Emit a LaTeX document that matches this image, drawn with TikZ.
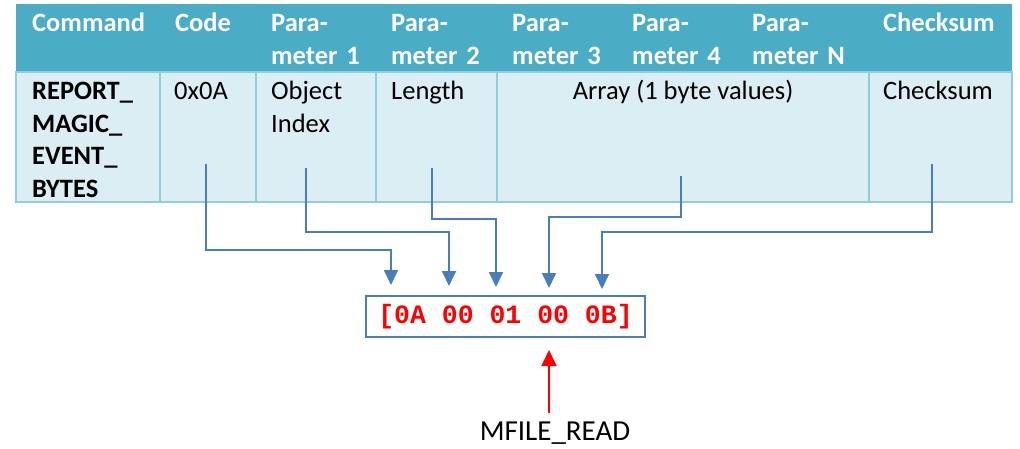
\documentclass[tikz,border=0pt]{standalone}
\usepackage{fontspec}
\setmainfont{Carlito}
\newfontfamily\bytefont{Liberation Mono}
\usetikzlibrary{arrows.meta}
\definecolor{hdr}{HTML}{4BACC6}
\definecolor{cellbg}{HTML}{DAEEF3}
\definecolor{cellline}{HTML}{92CDDC}
\definecolor{conn}{HTML}{4A7EBB}
\definecolor{redarrow}{HTML}{FF0000}
\begin{document}
\begin{tikzpicture}[x=1pt,y=-1pt,
  every node/.style={inner sep=0pt, font=\fontsize{26.5}{32.5}\selectfont},
  hd/.style={anchor=base west, text=white, font=\fontsize{26.5}{32.5}\selectfont\bfseries, text width=130pt, align=left},
  bd/.style={anchor=base west, text=black, text width=120pt, align=left},
  connector/.style={draw=conn, line width=1.8pt, -{Triangle[width=14pt,length=15pt]}},
  readarrow/.style={draw=redarrow, line width=1.8pt, -{Triangle[width=15pt,length=16pt]}}]
\useasboundingbox (0,0) rectangle (1020,449);
% table
\fill[hdr] (16,4) rectangle (1012,72);
\fill[cellbg] (16,72) rectangle (1012,202);
\draw[cellline, line width=1.6pt] (16,72) rectangle (1012,202);
\foreach \x in {160,256,376,497,869} \draw[cellline, line width=1.6pt] (\x,72) -- (\x,202);
% header texts
\node[hd] (hcmd) at (32,32) {Command};
\node[hd] (hcode) at (175,32) {Code};
\node[hd] (hp1) at (271,32) {Para-\\meter 1};
\node[hd] (hp2) at (391,32) {Para-\\meter 2};
\node[hd] (hp3) at (512,32) {Para-\\meter 3};
\node[hd] (hp4) at (632,32) {Para-\\meter 4};
\node[hd] (hpn) at (752,32) {Para-\\meter N};
\node[hd] (hck) at (883,32) {Checksum};
% body texts
\node[bd, font=\fontsize{26.5}{32.5}\selectfont\bfseries] (bcmd) at (32,100) {REPORT\_\\MAGIC\_\\EVENT\_\\BYTES};
\node[bd] (bcode) at (174,100) {0x0A};
\node[bd] (bp1) at (271,100) {Object\\Index};
\node[bd] (bp2) at (391,100) {Length};
\node[anchor=base] (barr) at (683,100) {Array (1 byte values)};
\node[bd] (bck) at (883,100) {Checksum};
% byte box
\node[draw=conn, line width=1.8pt, minimum width=279pt, minimum height=41pt] (bytes) at (505.5,316.5) {};
\node[font=\fontsize{26.5}{32.5}\selectfont\bytefont\bfseries, text=redarrow] (bytetext) at (bytes.center) {[0A 00 01 00 0B]};
% connector start and end points
\coordinate (s0) at (206,164);
\coordinate (s1) at (306,168);
\coordinate (s2) at (432,168);
\coordinate (s3) at (681,176);
\coordinate (s4) at (932,164);
\coordinate (t0) at (391,285);
\coordinate (t1) at (449,286);
\coordinate (t2) at (496,287);
\coordinate (t3) at (549,288);
\coordinate (t4) at (602,289);
\draw[connector] (s0) -- (s0 |- 0,250) -| (t0);
\draw[connector] (s1) -- (s1 |- 0,232) -| (t1);
\draw[connector] (s2) -- (s2 |- 0,219) -| (t2);
\draw[connector] (s3) -- (s3 |- 0,217) -| (t3);
\draw[connector] (s4) -- (s4 |- 0,232) -| (t4);
% MFILE_READ
\node[anchor=base, font=\fontsize{29}{34}\selectfont] (mfile) at (555,440) {MFILE\_READ};
\coordinate (r0) at (549,413);
\coordinate (r1) at (549,350);
\draw[readarrow] (r0) -- (r1);
\end{tikzpicture}
\end{document}
